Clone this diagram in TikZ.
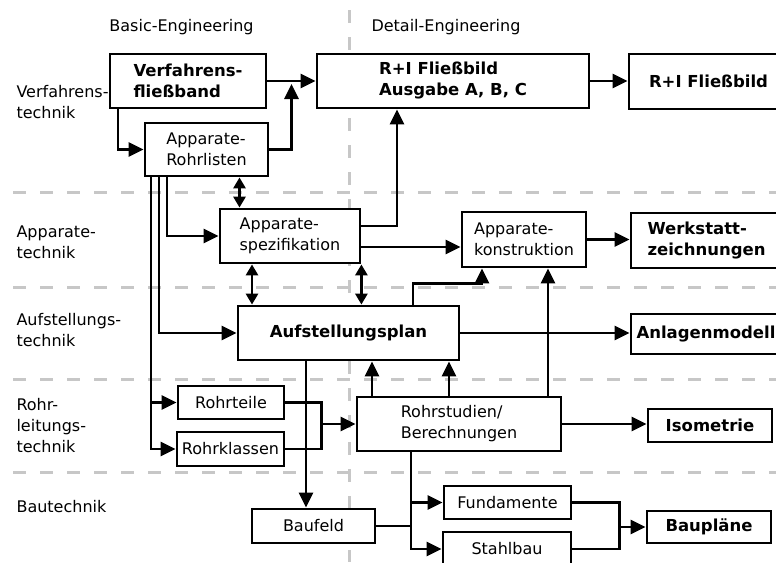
\documentclass[tikz,border=0pt]{standalone}
\usepackage{fontspec}
\setmainfont{DejaVu Sans}
\usetikzlibrary{arrows.meta,calc}

\begin{document}
\begin{tikzpicture}[x=1pt,y=1pt]
\tikzstyle{every node}+=[font=\fontsize{16}{21}\selectfont]
\tikzstyle{box}=[draw=black,line width=2.8pt,fill=white,inner sep=0pt,align=left]
\tikzstyle{bbox}=[box,font=\fontsize{16.5}{21}\selectfont\bfseries]
\tikzstyle{conn}=[line width=2.8pt]
\tikzstyle{arr}=[conn,-{Triangle[length=15pt,width=14pt]}]
\tikzstyle{darr}=[conn,{Triangle[length=11pt,width=12pt]}-{Triangle[length=11pt,width=12pt]}]
\tikzstyle{lane}=[draw=black!22,line width=3pt,dash pattern=on 12.5pt off 14.5pt]
\useasboundingbox (0,0) rectangle (776,-562);
\foreach \y in {192,287,379,472}
  \draw [lane] (13,-\y) -- (776,-\y);
\draw [lane] (349,-10) -- (349,-562);
\node (lbe) at (181.5,-27) {Basic-Engineering};
\node (lde) at (446,-27) {Detail-Engineering};
\node [anchor=west,align=left] (lvt) at (13,-102.5) {Verfahrens-\\technik};
\node [anchor=west,align=left] (lat) at (13,-242.5) {Apparate-\\technik};
\node [anchor=west,align=left] (lst) at (13,-330.5) {Aufstellungs-\\technik};
\node [anchor=west,align=left] (lrt) at (13,-426) {Rohr-\\leitungs-\\technik};
\node [anchor=west] (lbt) at (13,-507) {Bautechnik};
\node [bbox,minimum width=156pt,minimum height=54pt] (vfb) at (188,-81) {Verfahrens-\\fließband};
\node [bbox,minimum width=272pt,minimum height=54pt] (rib) at (453,-81) {R+I Fließbild\\Ausgabe A, B, C};
\node [bbox,minimum width=159pt,minimum height=55pt] (ri) at (708.5,-81.5) {R+I Fließbild};
\node [box,minimum width=123pt,minimum height=53pt] (arl) at (206.5,-149.5) {Apparate-\\Rohrlisten};
\node [box,minimum width=140pt,minimum height=54pt] (asp) at (290,-236) {Apparate-\\spezifikation};
\node [box,minimum width=124pt,minimum height=55pt] (ako) at (524,-239.5) {Apparate-\\konstruktion};
\node [bbox,minimum width=151pt,minimum height=55pt] (wsz) at (706.5,-240.5) {Werkstatt-\\zeichnungen};
\node [bbox,minimum width=221pt,minimum height=54pt] (afp) at (348.5,-333) {Aufstellungsplan};
\node [bbox,minimum width=150pt,minimum height=40pt] (alm) at (706,-334) {Anlagenmodell};
\node [box,minimum width=106pt,minimum height=33pt] (rt) at (231,-402.5) {Rohrteile};
\node [box,minimum width=107pt,minimum height=34pt] (rk) at (230.5,-449) {Rohrklassen};
\node [box,minimum width=204pt,minimum height=54pt] (rst) at (459,-424) {Rohrstudien/\\Berechnungen};
\node [bbox,minimum width=124pt,minimum height=33pt] (iso) at (710,-425.5) {Isometrie};
\node [box,minimum width=123pt,minimum height=34pt] (bf) at (313.5,-526) {Baufeld};
\node [box,minimum width=127pt,minimum height=33pt] (fu) at (507.5,-502.5) {Fundamente};
\node [box,minimum width=128pt,minimum height=34pt] (sb) at (507,-549) {Stahlbau};
\node [bbox,minimum width=124pt,minimum height=32pt] (bp) at (709,-527) {Baupläne};
\draw [arr] (vfb.east) -- (rib.west);
\draw [arr] (rib.east) -- (rib.east -| ri.west);
\draw [arr] (arl.east) -| ([yshift=-3pt]$(vfb.east)!.5!(rib.west)$);
\draw [arr] ([xshift=-70pt]vfb.south) |- (arl.west);
\draw [darr] ([xshift=33pt]arl.south) -- ([xshift=33pt]arl.south |- asp.north);
\draw [arr] ([xshift=-39.5pt]arl.south) |- (asp.west);
\draw [arr] ([xshift=-47.5pt]arl.south) |- (afp.west);
\draw [arr] ([xshift=-55.5pt]arl.south) |- (rk.west);
\draw [arr] ([xshift=-55.5pt]arl.south) |- (rt.west);
\draw [darr] ([xshift=-38pt]asp.south) -- ([xshift=-38pt]asp.south |- afp.north);
\draw [darr] (asp.south east) -- (asp.south east |- afp.north);
\draw [arr] ([yshift=10pt]asp.east) -| ([xshift=-56pt]rib.south);
\draw [arr] ([yshift=-11pt]asp.east) -- ([yshift=-11pt]asp.east -| ako.west);
\draw [arr] (ako.east) -- (ako.east -| wsz.west);
\draw [arr] ([xshift=64.5pt]afp.north) -- ++(0,21) -| ([xshift=-42pt]ako.south);
\draw [arr] ([xshift=24pt]ako.south |- rst.north) -- ([xshift=24pt]ako.south);
\draw [arr] (afp.east) -- (afp.east -| alm.west);
\draw [arr] ([xshift=-87pt]rst.north) -- ([xshift=-87pt]rst.north |- afp.south);
\draw [arr] ([xshift=-10pt]rst.north) -- ([xshift=-10pt]rst.north |- afp.south);
\draw [arr] ([xshift=-42.5pt]afp.south) -- ([xshift=-42.5pt]afp.south |- bf.north);
\draw [conn] (rt.east) -| ([xshift=36pt]rk.east) -- (rk.east);
\draw [arr] ([xshift=36pt]rk.east |- rst.west) -- (rst.west);
\draw [arr] (rst.east) -- (rst.east -| iso.west);
\draw [arr] ([xshift=-48pt]rst.south) |- (sb.west);
\draw [arr] ([xshift=-48pt]rst.south) |- (fu.west);
\draw [conn] (bf.east) -- ([xshift=-48pt]rst.south |- bf.east);
\draw [conn] (fu.east) -| ([xshift=47pt]sb.east) -- (sb.east);
\draw [arr] ([xshift=47pt]sb.east |- bp.west) -- (bp.west);
\end{tikzpicture}
\end{document}
